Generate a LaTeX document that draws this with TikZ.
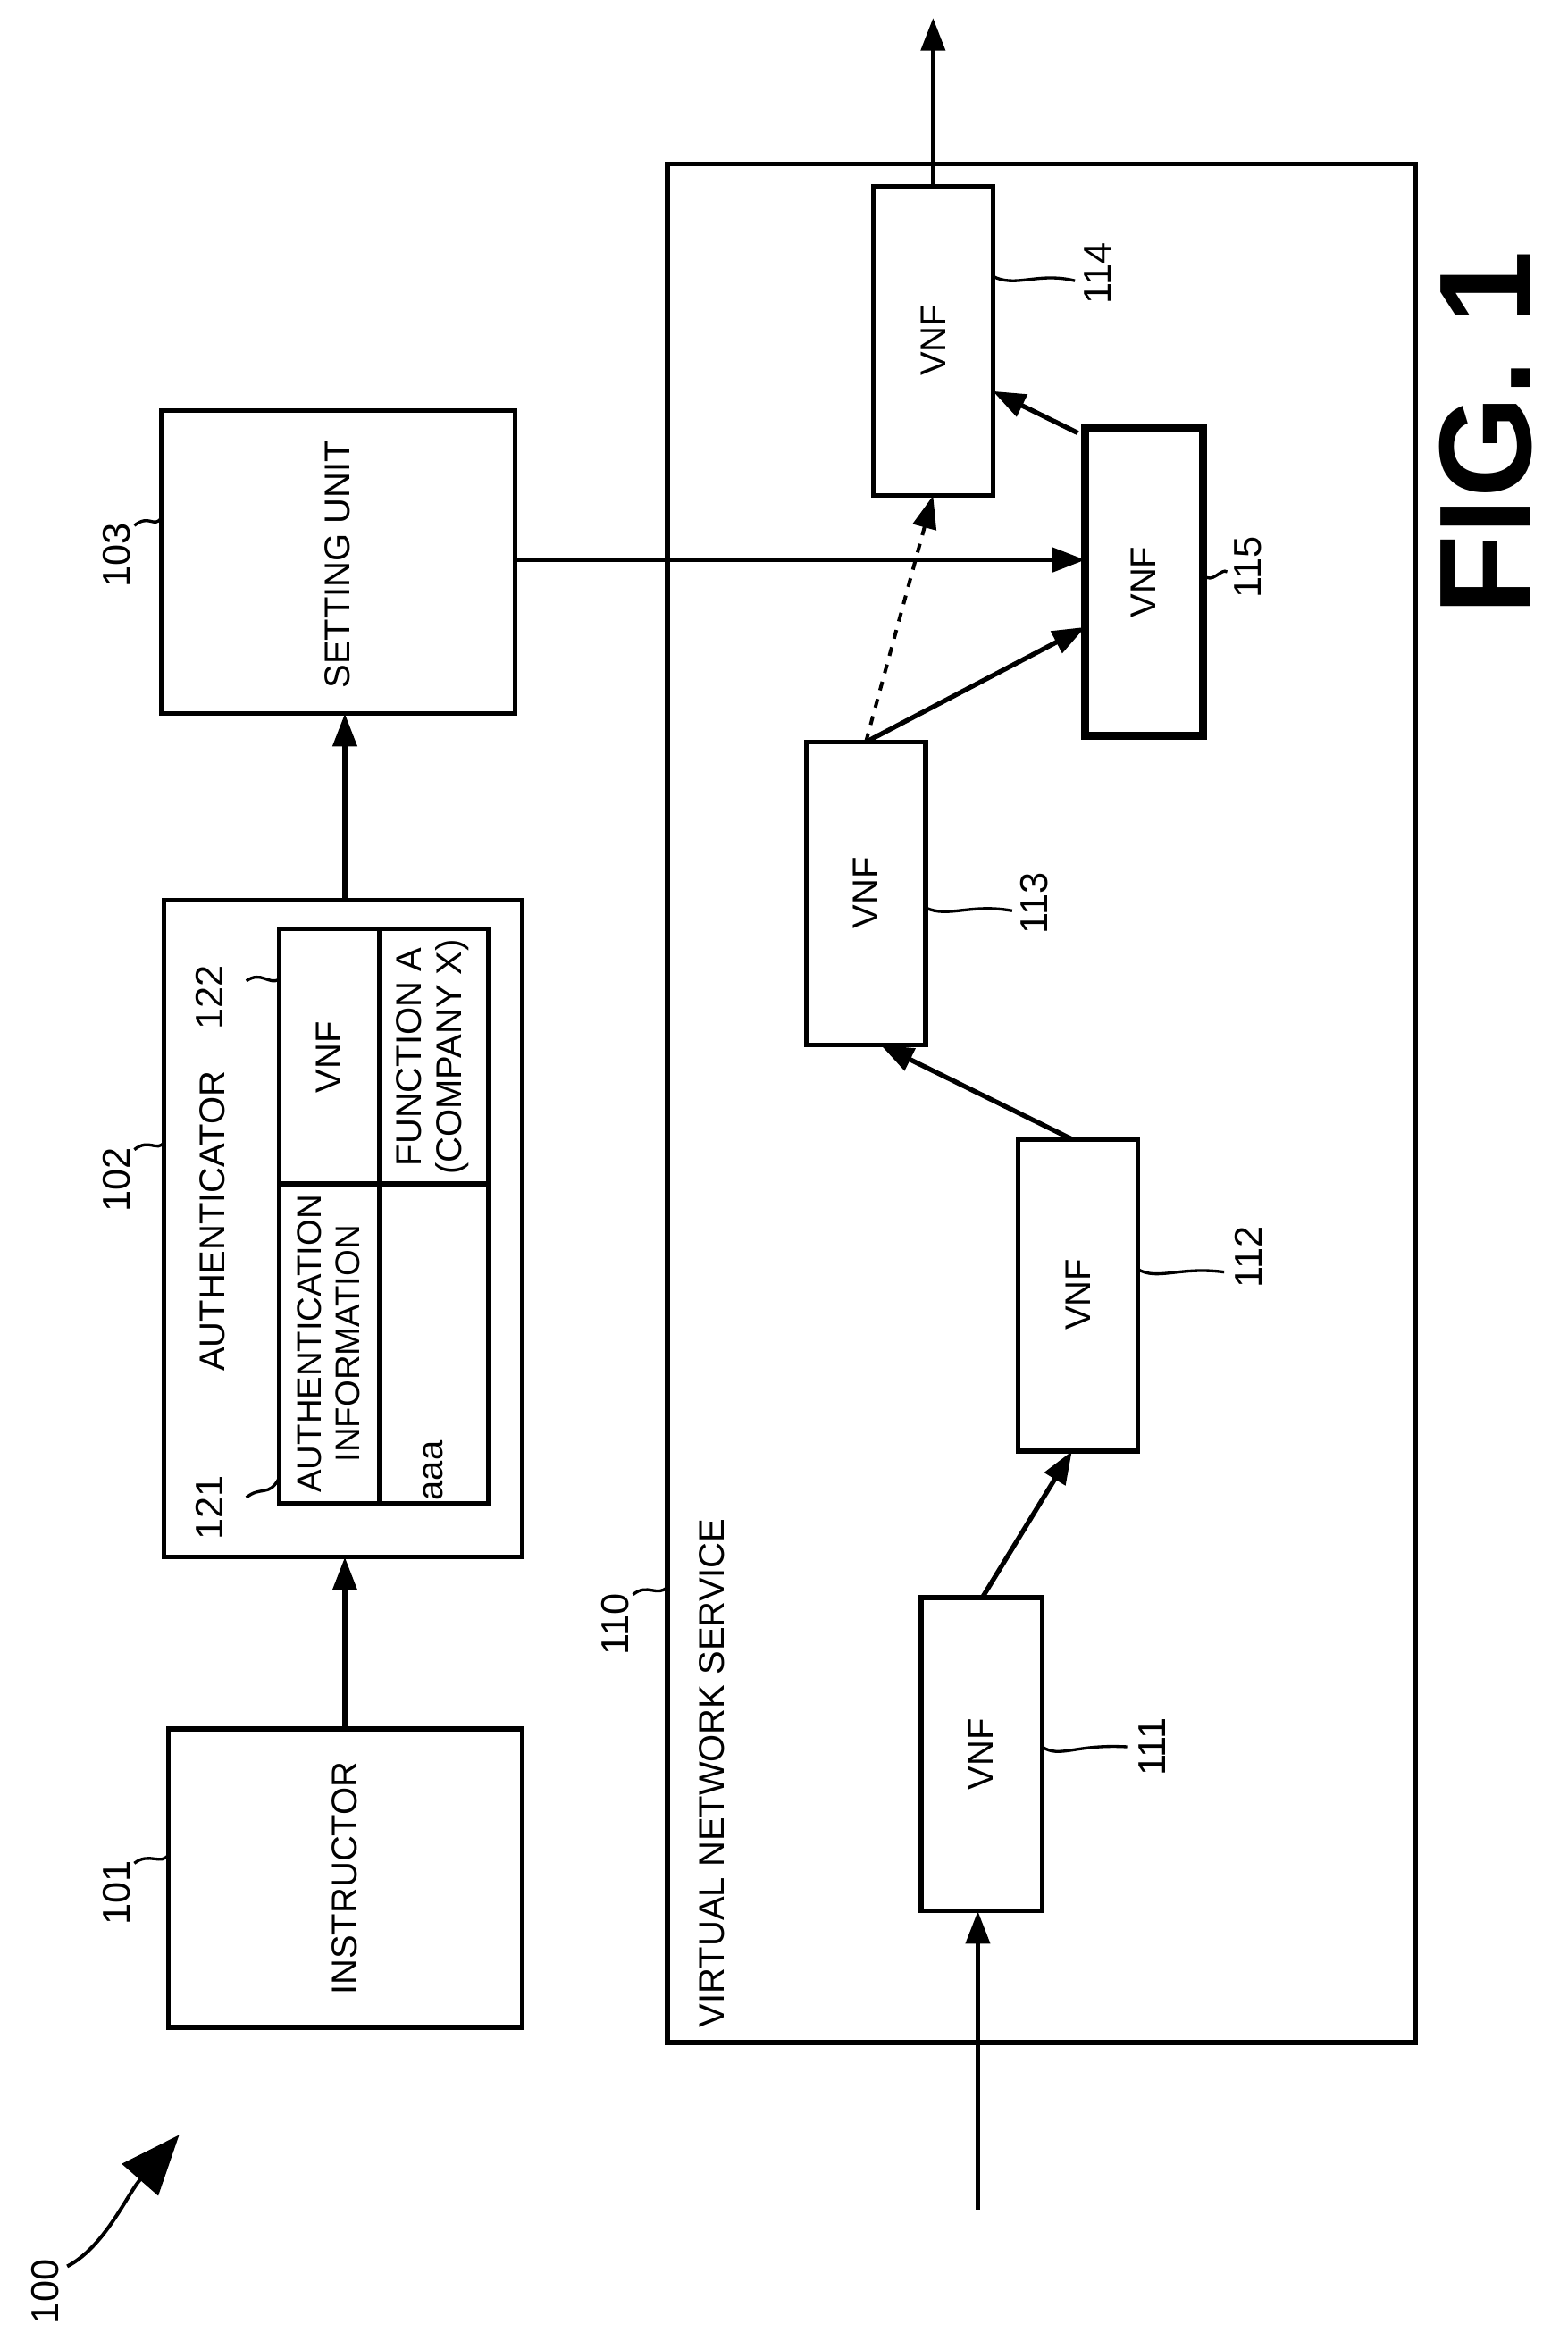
\documentclass[tikz,border=0pt]{standalone}
\usepackage{fontspec}
\setmainfont{Liberation Sans}
\usetikzlibrary{arrows.meta}
\begin{document}
\begin{tikzpicture}[x=0.5015pt,y=-0.5015pt,
  bx/.style={draw,line width=1.6pt},
  ar/.style={line width=1.6pt,-{Triangle[length=11pt,width=8pt]}},
  txt/.style={rotate=90,font=\fontsize{12}{13.5}\selectfont,align=center},
  lbl/.style={rotate=90,font=\fontsize{13}{14}\selectfont},
  ld/.style={line width=1pt}]
\useasboundingbox (0,0) rectangle (1050,1568);
% instructor
\draw[bx] (113,1158) rectangle (350,1358);
\node[txt] (ins) at (231,1258) {INSTRUCTOR};
\coordinate (insT) at (231,1158);
% authenticator
\draw[bx] (110,603) rectangle (350,1043);
\coordinate (auB) at (231,1043);\coordinate (auT) at (231,603);
\node[txt] (au) at (142,818) {AUTHENTICATOR};
\draw[bx] (187,622) rectangle (327,1007);
\draw[bx] (254,622) -- (254,1007);
\draw[bx] (187,793) -- (327,793);
\node[txt] (c1) at (220,708) {VNF};
\node[txt] (c2) at (290,708) {FUNCTION A\\(COMPANY X)};
\node[txt,font=\fontsize{11.5}{13}\selectfont] (c3) at (220,900) {AUTHENTICATION\\INFORMATION};
\node[txt] (c4) at (290,985) {aaa};
% setting unit
\draw[bx] (108,275) rectangle (345,478);
\node[txt] (su) at (226,378) {SETTING UNIT};
\coordinate (suB) at (231,478);\coordinate (suR) at (345,375);
\draw[ar] (insT) -- (auB);
\draw[ar] (auT) -- (suB);
% VNS
\draw[bx] (447,110) rectangle (948,1368);
\node[txt,anchor=west] (vns) at (477,1365) {VIRTUAL NETWORK SERVICE};
% VNFs
\draw[bx] (617,1070) rectangle (698,1280);
\node[txt] (v111) at (657,1175) {VNF};
\draw[bx] (682,763) rectangle (762,972);
\node[txt] (v112) at (722,867) {VNF};
\draw[bx] (540,497) rectangle (620,700);
\node[txt] (v113) at (580,598) {VNF};
\draw[line width=2.6pt] (727,287) rectangle (806,493);
\node[txt] (v115) at (766,390) {VNF};
\draw[bx] (585,125) rectangle (665,332);
\node[txt] (v114) at (625,228) {VNF};
\coordinate (in) at (655,1480);
\draw[ar] (in) -- (655,1280);
\draw[ar] (658,1070) -- (718,972);
\draw[ar] (718,763) -- (590,700);
\draw[ar] (580,497) -- (727,420);
\draw[ar,dashed,line width=1.2pt] (580,497) -- (625,332);
\draw[ar] (722,290) -- (665,262);
\draw[ar] (625,125) -- (625,12);
\draw[ar] (suR) -- (727,375);
% labels
\node[lbl] (l101) at (78,1268) {101};
\draw[ld] (90,1248) .. controls (100,1240) and (108,1250) .. (113,1242);
\node[lbl] (l102) at (78,790) {102};
\draw[ld] (90,770) .. controls (100,762) and (105,772) .. (110,765);
\node[lbl] (l103) at (78,372) {103};
\draw[ld] (90,352) .. controls (100,344) and (103,354) .. (108,347);
\node[lbl] (l110) at (412,1088) {110};
\draw[ld] (424,1068) .. controls (434,1060) and (440,1070) .. (447,1063);
\node[lbl] (l121) at (140,1010) {121};
\draw[ld] (165,1003) .. controls (175,995) and (180,1003) .. (187,990);
\node[lbl] (l122) at (140,668) {122};
\draw[ld] (165,657) .. controls (175,650) and (180,660) .. (187,656);
\node[lbl] (l111) at (772,1170) {111};
\draw[ld] (698,1170) .. controls (710,1178) and (720,1168) .. (755,1170);
\node[lbl] (l112) at (836,842) {112};
\draw[ld] (762,850) .. controls (775,858) and (790,848) .. (820,852);
\node[lbl] (l113) at (693,605) {113};
\draw[ld] (620,608) .. controls (635,615) and (650,605) .. (678,610);
\node[lbl] (l114) at (735,183) {114};
\draw[ld] (665,185) .. controls (680,193) and (695,182) .. (720,188);
\node[lbl] (l115) at (836,380) {115};
\draw[ld] (806,385) .. controls (812,392) and (818,380) .. (822,383);
\node[lbl] (l100) at (30,1535) {100};
\draw[line width=1.2pt,-{Triangle[length=20pt,width=16pt]}] (45,1518) .. controls (70,1505) and (85,1470) .. (120,1430);
\node[rotate=90,font=\bfseries\fontsize{44}{48}\selectfont] (fig) at (995,290) {FIG. 1};
\end{tikzpicture}
\end{document}
